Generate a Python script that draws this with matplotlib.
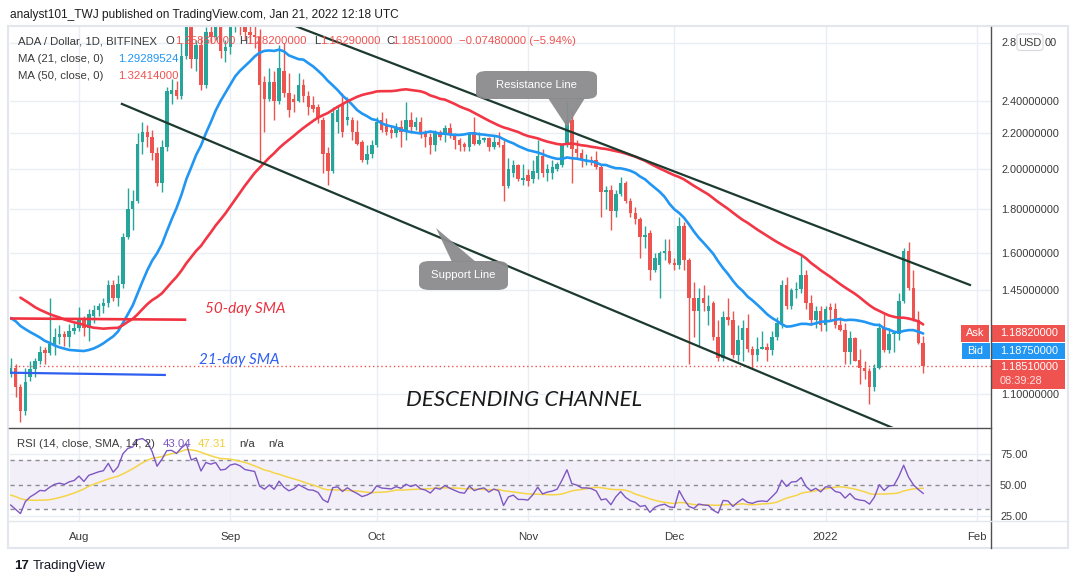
import numpy as np
import pandas as pd
import matplotlib
matplotlib.use("Agg")
import matplotlib.pyplot as plt
import matplotlib.dates as mdates
from matplotlib.patches import FancyBboxPatch, Polygon, Rectangle
from matplotlib.lines import Line2D
from matplotlib.ticker import NullLocator

plt.rcParams['font.family'] = ['Liberation Sans', 'DejaVu Sans']

# ---------------- data (ADA / USD, 1D, Bitfinex) ----------------
start_date = "2021-07-18"

opens = [
    # Jul 18-31
    1.16, 1.18, 1.12, 1.05, 1.15, 1.175, 1.20, 1.235, 1.225, 1.25, 1.28, 1.29, 1.28, 1.30,
    # Aug
    1.31, 1.345, 1.31, 1.355, 1.375, 1.39, 1.40, 1.47, 1.42, 1.475, 1.67, 1.80, 1.84, 2.15, 2.21, 2.18,
    2.09, 1.93, 2.12, 2.44, 2.47, 2.43, 2.70, 2.96, 2.68, 2.78, 2.50, 2.88, 2.84, 2.92, 2.74,
    # Sep
    2.77, 2.95, 3.00, 2.96, 2.88, 2.86, 2.84, 2.52, 2.41, 2.52, 2.40, 2.60, 2.45, 2.41, 2.40,
    2.50, 2.43, 2.37, 2.36, 2.28, 2.09, 1.99, 2.27, 2.37, 2.28, 2.28, 2.21, 2.15, 2.05, 2.08,
    # Oct
    2.13, 2.28, 2.25, 2.22, 2.20, 2.24, 2.21, 2.28, 2.24, 2.27, 2.20, 2.18, 2.13, 2.21, 2.19, 2.23,
    2.19, 2.16, 2.14, 2.12, 2.21, 2.14, 2.16, 2.17, 2.12, 2.15, 2.13, 1.91, 1.98, 2.02, 1.945,
    # Nov
    1.97, 1.95, 1.98, 2.07, 1.98, 1.98, 2.00, 2.02, 2.13, 2.28, 2.11, 2.09, 2.04, 2.05, 2.05,
    2.01, 1.88, 1.89, 1.79, 1.87, 1.93, 1.84, 1.78, 1.75, 1.67, 1.69, 1.53, 1.55, 1.60, 1.61,
    # Dec
    1.56, 1.55, 1.72, 1.57, 1.42, 1.37, 1.42, 1.37, 1.40, 1.28, 1.21, 1.35, 1.34, 1.22, 1.27, 1.31,
    1.24, 1.22, 1.24, 1.245, 1.235, 1.28, 1.33, 1.47, 1.39, 1.45, 1.455, 1.51, 1.40, 1.34, 1.37,
    # Jan 1-21
    1.32, 1.385, 1.38, 1.32, 1.305, 1.23, 1.275, 1.205, 1.18, 1.17, 1.12, 1.18, 1.31, 1.235, 1.29,
    1.29, 1.41, 1.61, 1.46, 1.34, 1.2586,
]
highs = [
    1.21, 1.19, 1.13, 1.18, 1.20, 1.21, 1.25, 1.245, 1.42, 1.31, 1.32, 1.30, 1.325, 1.33,
    1.385, 1.355, 1.38, 1.395, 1.40, 1.42, 1.49, 1.49, 1.51, 1.69, 1.90, 1.89, 2.20, 2.27, 2.25, 2.22,
    2.12, 2.16, 2.49, 2.54, 2.53, 2.80, 3.00, 2.98, 2.82, 2.84, 2.92, 2.95, 2.97, 2.95, 2.82,
    3.00, 3.10, 3.08, 3.02, 2.96, 2.95, 2.90, 2.56, 2.62, 2.60, 2.78, 2.80, 2.58, 2.44, 2.58,
    2.54, 2.46, 2.43, 2.38, 2.30, 2.12, 2.36, 2.37, 2.45, 2.42, 2.30, 2.28, 2.16, 2.13, 2.16,
    2.30, 2.33, 2.29, 2.25, 2.26, 2.28, 2.39, 2.33, 2.30, 2.30, 2.22, 2.20, 2.22, 2.22, 2.25, 2.26,
    2.20, 2.17, 2.15, 2.21, 2.30, 2.21, 2.18, 2.18, 2.19, 2.21, 2.16, 2.06, 2.05, 2.03, 2.03,
    2.00, 2.05, 2.16, 2.11, 2.03, 2.05, 2.04, 2.14, 2.39, 2.34, 2.16, 2.11, 2.08, 2.07, 2.10,
    2.02, 1.91, 1.92, 1.89, 1.96, 1.94, 1.85, 1.81, 1.76, 1.72, 1.70, 1.60, 1.61, 1.66, 1.66,
    1.58, 1.76, 1.74, 1.58, 1.48, 1.46, 1.47, 1.43, 1.41, 1.34, 1.37, 1.42, 1.37, 1.32, 1.34, 1.36,
    1.25, 1.28, 1.30, 1.26, 1.30, 1.35, 1.49, 1.50, 1.46, 1.48, 1.59, 1.53, 1.43, 1.39, 1.39,
    1.39, 1.40, 1.40, 1.35, 1.33, 1.30, 1.28, 1.24, 1.20, 1.18, 1.19, 1.33, 1.36, 1.31, 1.30,
    1.44, 1.62, 1.65, 1.53, 1.37, 1.282,
]
lows = [
    1.15, 1.09, 1.02, 1.04, 1.14, 1.15, 1.19, 1.19, 1.22, 1.22, 1.255, 1.25, 1.245, 1.29,
    1.30, 1.285, 1.265, 1.33, 1.355, 1.365, 1.385, 1.41, 1.39, 1.46, 1.66, 1.70, 1.83, 2.08, 2.12, 2.05,
    1.91, 1.88, 2.10, 2.38, 2.41, 2.41, 2.68, 2.62, 2.60, 2.47, 2.48, 2.80, 2.82, 2.69, 2.66,
    2.72, 2.88, 2.86, 2.82, 2.80, 2.76, 2.04, 2.21, 2.40, 2.28, 2.38, 2.42, 2.30, 2.33, 2.39,
    2.39, 2.31, 2.33, 2.26, 1.98, 1.92, 1.98, 2.20, 2.18, 2.25, 2.16, 2.13, 2.04, 2.03, 2.06,
    2.12, 2.21, 2.19, 2.17, 2.18, 2.12, 2.16, 2.20, 2.22, 2.17, 2.12, 2.08, 2.10, 2.16, 2.15, 2.17,
    2.11, 2.10, 2.10, 2.10, 2.13, 2.13, 2.15, 2.10, 2.11, 2.12, 1.84, 1.90, 1.96, 1.94, 1.92,
    1.91, 1.93, 1.95, 1.96, 1.94, 1.95, 1.99, 2.01, 2.12, 1.93, 2.06, 2.01, 2.02, 2.02, 2.00,
    1.76, 1.80, 1.70, 1.76, 1.86, 1.83, 1.76, 1.73, 1.58, 1.62, 1.49, 1.52, 1.42, 1.57, 1.555,
    1.53, 1.535, 1.53, 1.19, 1.28, 1.25, 1.37, 1.32, 1.27, 1.20, 1.20, 1.32, 1.21, 1.20, 1.20, 1.23,
    1.18, 1.20, 1.24, 1.20, 1.22, 1.27, 1.31, 1.38, 1.38, 1.42, 1.44, 1.38, 1.32, 1.31, 1.30,
    1.30, 1.34, 1.31, 1.30, 1.19, 1.19, 1.20, 1.13, 1.145, 1.07, 1.11, 1.175, 1.23, 1.225, 1.23,
    1.27, 1.40, 1.45, 1.335, 1.255, 1.1629,
]
closes = [
    1.18, 1.12, 1.05, 1.136, 1.175, 1.20, 1.23, 1.225, 1.255, 1.28, 1.29, 1.28, 1.30, 1.31,
    1.345, 1.31, 1.36, 1.375, 1.39, 1.40, 1.47, 1.42, 1.475, 1.67, 1.80, 1.84, 2.14, 2.21, 2.18, 2.09,
    1.93, 2.12, 2.46, 2.47, 2.43, 2.70, 2.96, 2.68, 2.78, 2.50, 2.88, 2.84, 2.92, 2.74, 2.77,
    2.95, 3.00, 2.96, 2.88, 2.86, 2.84, 2.50, 2.41, 2.52, 2.40, 2.62, 2.45, 2.34, 2.39, 2.50,
    2.43, 2.36, 2.35, 2.29, 2.08, 1.99, 2.32, 2.34, 2.21, 2.30, 2.21, 2.14, 2.05, 2.08, 2.13,
    2.27, 2.22, 2.21, 2.20, 2.24, 2.21, 2.28, 2.24, 2.27, 2.20, 2.18, 2.13, 2.20, 2.18, 2.23, 2.19,
    2.16, 2.13, 2.12, 2.20, 2.14, 2.16, 2.17, 2.12, 2.15, 2.13, 1.91, 2.00, 2.02, 1.95, 1.95,
    1.94, 1.99, 2.07, 1.98, 2.00, 2.01, 2.03, 2.13, 2.28, 2.11, 2.09, 2.05, 2.05, 2.04, 2.01,
    1.88, 1.89, 1.79, 1.87, 1.93, 1.84, 1.78, 1.75, 1.67, 1.68, 1.53, 1.58, 1.60, 1.61, 1.56,
    1.55, 1.72, 1.57, 1.42, 1.37, 1.42, 1.40, 1.39, 1.28, 1.21, 1.35, 1.34, 1.22, 1.27, 1.31, 1.24,
    1.22, 1.24, 1.245, 1.235, 1.28, 1.33, 1.47, 1.39, 1.45, 1.455, 1.51, 1.40, 1.34, 1.37, 1.32,
    1.38, 1.375, 1.32, 1.305, 1.23, 1.275, 1.20, 1.18, 1.17, 1.12, 1.18, 1.31, 1.235, 1.29, 1.295,
    1.41, 1.61, 1.46, 1.34, 1.2586, 1.1851,
]
# daily closes before the visible window (Jun 1 - Jul 17 2021), used only to warm up MA / RSI
pre_closes = [
    1.71, 1.77, 1.82, 1.70, 1.62, 1.66, 1.59, 1.57, 1.64, 1.57, 1.55, 1.53, 1.60, 1.62, 1.58, 1.48,
    1.48, 1.40, 1.38, 1.43, 1.21, 1.21, 1.32, 1.33, 1.26, 1.26, 1.33, 1.35, 1.41, 1.37, 1.39, 1.39,
    1.43, 1.46, 1.40, 1.46, 1.42, 1.37, 1.39, 1.34, 1.37, 1.33, 1.29, 1.27, 1.23, 1.20, 1.22,
]

price_ticks = [1.10, 1.45, 1.60, 1.80, 2.00, 2.20, 2.40, 2.80]
rsi_ticks = [25, 50, 75]
month_ticks = ["2021-08-01", "2021-09-01", "2021-10-01", "2021-11-01",
               "2021-12-01", "2022-01-01", "2022-02-01"]
month_labels = ["Aug", "Sep", "Oct", "Nov", "Dec", "2022", "Feb"]

last_price = 1.1851
ask_price = 1.1882
bid_price = 1.1875

# channel drawings (date, price) anchors
resistance = [("2021-09-13 05:00", 2.943), ("2022-01-30 14:00", 1.47)]
support = [("2021-08-09 19:00", 2.379), ("2022-01-14 19:00", 1.005)]
sma50_mark = [("2021-07-17 21:00", 1.3446), ("2021-08-22 17:00", 1.3403)]
sma21_mark = [("2021-07-17 21:00", 1.164), ("2021-08-18 14:00", 1.157)]

# ---------------- derived ----------------
o = np.array(opens); h = np.array(highs); l = np.array(lows); c = np.array(closes)
n = len(c)
dates = pd.date_range(start_date, periods=n, freq="D")
xd = mdates.date2num(dates)
allc = pd.Series(pre_closes + closes)
npre = len(pre_closes)
ma21 = allc.rolling(21).mean().values[npre:]
ma50 = allc.rolling(50).mean().values[npre:]

def rma(x, p):
    out = np.full(len(x), np.nan)
    out[p] = np.mean(x[1:p + 1])
    for i in range(p + 1, len(x)):
        out[i] = (out[i - 1] * (p - 1) + x[i]) / p
    return out

arr = allc.values
d = np.diff(arr, prepend=arr[0])
ru = rma(np.clip(d, 0, None), 14)
rd = rma(np.clip(-d, 0, None), 14)
rsi_all = 100 - 100 / (1 + ru / rd)
rsi_sma_all = pd.Series(rsi_all).rolling(14).mean().values
rsi = rsi_all[npre:]
rsi_sma = rsi_sma_all[npre:]

# ---------------- figure ----------------
W, H = 1079, 584
fig = plt.figure(figsize=(W / 100, H / 100), dpi=100)
fig.patch.set_facecolor("white")

def fx(px):
    return px / W

def fy(py):
    return 1 - py / H

Lp, Rp = 10, 991
Tp, Mp, Bp = 27, 427, 521
ax = fig.add_axes([fx(Lp), fy(Mp), fx(Rp) - fx(Lp), fy(Tp) - fy(Mp)])
axr = fig.add_axes([fx(Lp), fy(Bp), fx(Rp) - fx(Lp), fy(Mp) - fy(Bp)], sharex=ax)

UP, DN = "#26a69a", "#ef5350"
GRID = "#e9eef4"
TXT = "#3a3a3a"
LBL = 7.9

aug1 = mdates.date2num(pd.Timestamp("2021-08-01"))
ax.set_xlim(aug1 - 14.14, aug1 + 186.9)
ax.set_yscale("log")
ax.set_ylim(1.0075, 2.919)
ax.yaxis.set_minor_locator(NullLocator())
ax.set_yticks(price_ticks)
# the 2.8 label is partly hidden behind the "USD" badge, drawn in two pieces below
ax.set_yticklabels(["" if v == 2.80 else f"{v:.8f}" for v in price_ticks])
ax.yaxis.tick_right()
ax.tick_params(axis="y", length=0, pad=7.2, labelsize=LBL, labelcolor=TXT)
ax.tick_params(axis="x", length=0, labelbottom=False)
for s in ax.spines.values():
    s.set_visible(False)

mt = mdates.date2num(pd.to_datetime(month_ticks))
for p in price_ticks:
    ax.axhline(p, color=GRID, lw=1, zorder=0)
for m in mt:
    ax.axvline(m, color=GRID, lw=1, zorder=0)

# candles
up = c >= o
cols = np.where(up, UP, DN)
ax.vlines(xd, l, h, colors=cols, lw=1, zorder=3)
blo = np.minimum(o, c)
bhi = np.maximum(np.maximum(o, c), blo * 1.004)
ax.bar(xd, bhi - blo, bottom=blo, width=0.72, color=cols, lw=0, zorder=4)

# moving averages
ax.plot(xd, ma21, color="#2196f3", lw=1.9, zorder=5, solid_capstyle="round")
ax.plot(xd, ma50, color="#f23645", lw=1.9, zorder=5, solid_capstyle="round")

# last price dotted line
ax.axhline(last_price, color=DN, lw=1, ls=(0, (1, 2)), zorder=2)

# channel lines
LINE = "#1c3a2e"
for seg in (resistance, support):
    xs = mdates.date2num(pd.to_datetime([seg[0][0], seg[1][0]]))
    ax.plot(xs, [seg[0][1], seg[1][1]], color=LINE, lw=1.6, zorder=6)
xs = mdates.date2num(pd.to_datetime([sma50_mark[0][0], sma50_mark[1][0]]))
ax.plot(xs, [sma50_mark[0][1], sma50_mark[1][1]], color="#f0313f", lw=1.9, zorder=6)
xs = mdates.date2num(pd.to_datetime([sma21_mark[0][0], sma21_mark[1][0]]))
ax.plot(xs, [sma21_mark[0][1], sma21_mark[1][1]], color="#2f5ff0", lw=1.6, zorder=6)

# ---------------- RSI pane ----------------
axr.set_ylim(20.6, 97.0)
axr.axhspan(30, 70, color="#7e57c2", alpha=0.09, lw=0, zorder=0)
for v in (25, 75):
    axr.axhline(v, color=GRID, lw=1, zorder=0)
for m in mt:
    axr.axvline(m, color=GRID, lw=1, zorder=0)
for v in (30, 50, 70):
    axr.axhline(v, color="#8a8d96", lw=1, ls=(0, (3, 3)), zorder=1)
axr.plot(xd, rsi, color="#7e57c2", lw=1, zorder=3)
axr.plot(xd, rsi_sma, color="#f5d547", lw=1.1, zorder=2)
axr.set_yticks(rsi_ticks)
axr.set_yticklabels([f"{v:.2f}" for v in rsi_ticks])
axr.yaxis.tick_right()
axr.tick_params(axis="y", length=0, pad=6.5, labelsize=LBL, labelcolor=TXT)
axr.set_xticks(mt)
axr.set_xticklabels(month_labels)
axr.tick_params(axis="x", length=0, pad=8, labelsize=8.2, labelcolor=TXT)
for s in axr.spines.values():
    s.set_visible(False)

# ---------------- frame / separators ----------------
fig.add_artist(Rectangle((fx(8), fy(548)), fx(1068) - fx(8), fy(26) - fy(548),
                         transform=fig.transFigure, fill=False, ec="#e3e6ec", lw=1.5))
fig.add_artist(Line2D([fx(991), fx(991)], [fy(27), fy(548)], color="#505050", lw=1))
fig.add_artist(Line2D([fx(9), fx(991)], [fy(427.5), fy(427.5)], color="#505050", lw=1))
fig.add_artist(Line2D([fx(9), fx(1068)], [fy(521), fy(521)], color="#e3e6ec", lw=1))

# ---------------- texts ----------------
fig.text(fx(10), fy(15), "analyst101_TWJ published on TradingView.com, Jan 21, 2022 12:18 UTC",
         fontsize=8.55, color="#1e1e1e", va="center", ha="left")

def t(x, y, s, col=TXT, size=8.2, **kw):
    fig.text(fx(x), fy(y), s, fontsize=size, color=col, va="center", ha="left", **kw)

t(18, 41.5, "ADA / Dollar, 1D, BITFINEX")
t(166, 41.5, "O")
t(175.5, 41.5, "1.25860000", DN)
t(239, 41.5, "H")
t(246, 41.5, "1.28200000", DN)
t(314, 41.5, "L")
t(320, 41.5, "1.16290000", DN)
t(386, 41.5, "C")
t(392.5, 41.5, "1.18510000", DN)
t(459, 41.5, "\u22120.07480000 (\u22125.94%)", DN)
t(18, 59, "MA (21, close, 0)")
t(118.5, 59, "1.29289524", "#2196f3")
t(18, 76, "MA (50, close, 0)")
t(118.5, 76, "1.32414000", DN)

t(17, 444, "RSI (14, close, SMA, 14, 2)")
t(163, 444, f"{43.04:.2f}", "#7e57c2")
t(197.5, 444, f"{47.31:.2f}", "#f0cf3a")
t(239, 444, "n/a")
t(268, 444, "n/a")

# annotation texts
fig.text(fx(245), fy(309), "50-day SMA", fontsize=11, color="#e8323f", style="italic",
         ha="center", va="center", family=["Lato", "DejaVu Sans"])
fig.text(fx(239), fy(360), "21-day SMA", fontsize=11, color="#2f5ff0", style="italic",
         ha="center", va="center", family=["Lato", "DejaVu Sans"])
fig.text(fx(524), fy(400), "DESCENDING CHANNEL", fontsize=16, color="#1a1a1a", style="italic",
         ha="center", va="center", family=["Lato", "DejaVu Sans"])

# callouts
BOXC = "#8b8b8e"
fig.add_artist(Polygon([(fx(548), fy(98)), (fx(585), fy(98)), (fx(567), fy(127))],
                       closed=True, transform=fig.transFigure, fc=BOXC, ec="none", alpha=0.95))
fig.add_artist(FancyBboxPatch((fx(476), fy(99)), fx(597) - fx(476), fy(71) - fy(99),
                              boxstyle="round,pad=0,rounding_size=0.01", transform=fig.transFigure,
                              fc=BOXC, ec="none", alpha=0.95))
fig.text(fx(536.5), fy(85), "Resistance Line", fontsize=8.2, color="white", ha="center", va="center")

fig.add_artist(Polygon([(fx(436), fy(228)), (fx(452), fy(262)), (fx(476), fy(262))],
                       closed=True, transform=fig.transFigure, fc=BOXC, ec="none", alpha=0.95))
fig.add_artist(FancyBboxPatch((fx(419), fy(290)), fx(508) - fx(419), fy(261) - fy(290),
                              boxstyle="round,pad=0,rounding_size=0.01", transform=fig.transFigure,
                              fc=BOXC, ec="none", alpha=0.95))
fig.text(fx(463.5), fy(275.5), "Support Line", fontsize=8.2, color="white", ha="center", va="center")

# price-scale badges
def badge(x0, x1, y0, y1, col):
    fig.add_artist(Rectangle((fx(x0), fy(y1)), fx(x1) - fx(x0), fy(y0) - fy(y1),
                             transform=fig.transFigure, fc=col, ec="none"))

badge(961, 989.5, 325, 341.5, DN)
badge(991, 1065, 325, 341.5, DN)
t(966, 333.5, "Ask", "white", LBL)
t(1000, 333.5, f"{ask_price:.8f}", "white", LBL)
badge(962, 989.5, 342.5, 358.5, "#2196f3")
badge(991, 1065, 342.5, 358.5, "#2196f3")
t(967, 350.5, "Bid", "white", LBL)
t(1000, 350.5, f"{bid_price:.8f}", "white", LBL)
badge(991, 1065, 359.5, 389, DN)
t(1000, 367.5, f"{last_price:.8f}", "white", LBL)
t(1000, 381, "08:39:28", "#fde0e0", LBL)

# 2.8 tick label (visible pieces) and USD badge
t(1001, 42.7, "2.8", TXT, LBL)
t(1045, 42.7, "00", TXT, LBL)
fig.add_artist(FancyBboxPatch((fx(1017), fy(50.5)), fx(1043) - fx(1017), fy(34) - fy(50.5),
                              boxstyle="round,pad=0,rounding_size=0.004", transform=fig.transFigure,
                              fc="white", ec="#d6d9e0", lw=0.8))
fig.text(fx(1030), fy(42.5), "USD", fontsize=LBL, color=TXT, ha="center", va="center")

# footer logo
fig.text(fx(14), fy(566), "17", fontsize=9.5, color="#131722", weight="bold", va="center", ha="left")
fig.text(fx(33), fy(566), "TradingView", fontsize=9.5, color="#131722", va="center", ha="left")

fig.savefig("out.png", dpi=100)
